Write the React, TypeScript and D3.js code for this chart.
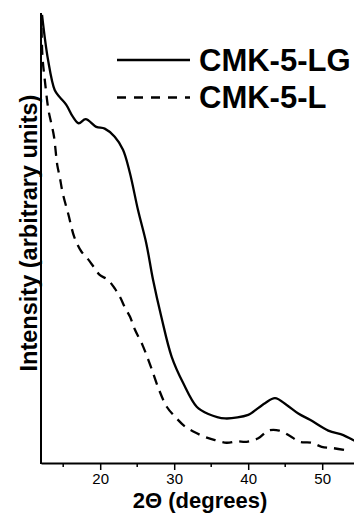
import { useRef, useEffect } from "react"
import * as d3 from "d3"

// 2-theta (degrees) and intensity (arbitrary, 0-100)
const lgTheta = [12.14, 12.95, 13.85, 14.53, 15.42, 16.32, 17.09, 18.04, 19.47, 20.61, 21.96, 23.08, 23.99, 25.11, 26.23, 27.14, 28.26, 29.66, 31.23, 33.04, 34.61, 36.86, 40.01, 40.69, 42.27, 43.62, 45.2, 46.77, 48.35, 50.82, 52.85, 54.3, 55]
const lgIntensity = [99.6, 89.6, 82.9, 81.3, 79.6, 76.9, 75.5, 76.4, 74.7, 74.3, 72.5, 69.6, 64.6, 56.2, 48.8, 40.7, 32.5, 23.6, 17.7, 12.5, 10.9, 9.9, 10.7, 11.4, 13.3, 14.4, 12.9, 11.0, 9.6, 7.2, 6.2, 5.0, 4.7]

const lTheta = [12.07, 12.2, 12.54, 13.01, 13.39, 13.76, 14.2, 14.53, 14.93, 15.72, 16.5, 17.45, 18.35, 19.16, 19.93, 21.05, 21.96, 22.64, 23.39, 24.03, 24.7, 25.72, 26.84, 27.92, 28.99, 30.11, 31.46, 32.58, 34.16, 35.51, 37.09, 38.45, 39.8, 41.36, 42.72, 44.2, 45.65, 47.0, 48.58, 49.93, 51.5, 52.95]
const lIntensity = [96.7, 90.2, 84.7, 78.4, 75.5, 72.5, 66.2, 63.6, 60.0, 55.1, 50.2, 47.0, 45.3, 43.5, 41.8, 40.7, 38.8, 37.0, 34.4, 32.5, 29.6, 26.2, 21.4, 16.4, 12.5, 10.3, 8.1, 7.0, 5.8, 5.1, 4.5, 4.8, 4.7, 5.5, 7.2, 7.2, 6.0, 4.7, 4.5, 3.6, 3.3, 2.9]

const majorTicks = [20, 30, 40, 50]
const minorTicks = [15, 25, 35, 45, 55]
const seriesNames = ["CMK-5-LG", "CMK-5-L"]

const font = "Arial, 'Liberation Sans', Helvetica, sans-serif"

export default function App() {
  const svgRef = useRef<SVGSVGElement>(null)

  useEffect(() => {
    if (!svgRef.current) return
    const svg = d3.select(svgRef.current)
    svg.selectAll("*").remove()

    const left = 41
    const bottom = 463
    const top = 13

    const x = d3.scaleLinear().domain([12, 55]).range([left, left + 43 * 7.4])
    const y = d3.scaleLinear().domain([0, 100]).range([bottom, top])

    const line = d3
      .line<[number, number]>()
      .x((d) => x(d[0]))
      .y((d) => y(d[1]))
      .curve(d3.curveCatmullRom.alpha(0.5))

    const lgData = lgTheta.map((t, i) => [t, lgIntensity[i]] as [number, number])
    const lData = lTheta.map((t, i) => [t, lIntensity[i]] as [number, number])

    svg.append("path")
      .attr("d", line(lData))
      .attr("fill", "none")
      .attr("stroke", "#000")
      .attr("stroke-width", 2.3)
      .attr("stroke-dasharray", "10,7")

    svg.append("path")
      .attr("d", line(lgData))
      .attr("fill", "none")
      .attr("stroke", "#000")
      .attr("stroke-width", 2.3)

    // x axis
    const xAxis = svg.append("g").attr("transform", `translate(0, ${bottom})`)
    xAxis.call(d3.axisBottom(x).tickValues(majorTicks).tickSize(7).tickSizeOuter(0).tickFormat(d3.format("d")))
    xAxis.select(".domain").attr("stroke-width", 2)
    xAxis.selectAll(".tick line").attr("stroke-width", 1.5)
    xAxis.selectAll(".tick text")
      .attr("font-family", font)
      .attr("font-size", "15px")
      .attr("fill", "#000")
      .attr("dy", "0.62em")
      .attr("y", 12)

    xAxis.selectAll(".minor")
      .data(minorTicks)
      .join("line")
      .attr("x1", (d) => x(d))
      .attr("x2", (d) => x(d))
      .attr("y1", 0)
      .attr("y2", 4)
      .attr("stroke", "#000")
      .attr("stroke-width", 1.5)

    // y axis (line only, no ticks)
    svg.append("line")
      .attr("x1", left)
      .attr("x2", left)
      .attr("y1", top)
      .attr("y2", bottom + 1)
      .attr("stroke", "#000")
      .attr("stroke-width", 2)

    // axis titles
    svg.append("text")
      .attr("x", 200)
      .attr("y", 508)
      .attr("text-anchor", "middle")
      .attr("font-family", font)
      .attr("font-weight", "bold")
      .attr("font-size", "22px")
      .text("2\u0398 (degrees)")

    svg.append("text")
      .attr("transform", `translate(37, 233) rotate(-90)`)
      .attr("text-anchor", "middle")
      .attr("font-family", font)
      .attr("font-weight", "bold")
      .attr("font-size", "23.5px")
      .text("Intensity (arbitrary units)")

    // legend
    const legendY = [60, 97.5]
    const legend = svg.append("g")
    legend.selectAll("line")
      .data(seriesNames)
      .join("line")
      .attr("x1", 117)
      .attr("x2", 190)
      .attr("y1", (d, i) => legendY[i])
      .attr("y2", (d, i) => legendY[i])
      .attr("stroke", "#000")
      .attr("stroke-width", 2.3)
      .attr("stroke-dasharray", (d, i) => (i === 1 ? "9,8" : null))

    legend.selectAll("text")
      .data(seriesNames)
      .join("text")
      .attr("x", 199)
      .attr("y", (d, i) => legendY[i] + 10.5)
      .attr("font-family", font)
      .attr("font-weight", "bold")
      .attr("font-size", "31px")
      .text((d) => d)
  }, [])

  return (
    <svg
      ref={svgRef}
      width={354}
      height={514}
      style={{ position: "absolute", left: 0, top: 0, background: "#fff" }}
    />
  )
}
